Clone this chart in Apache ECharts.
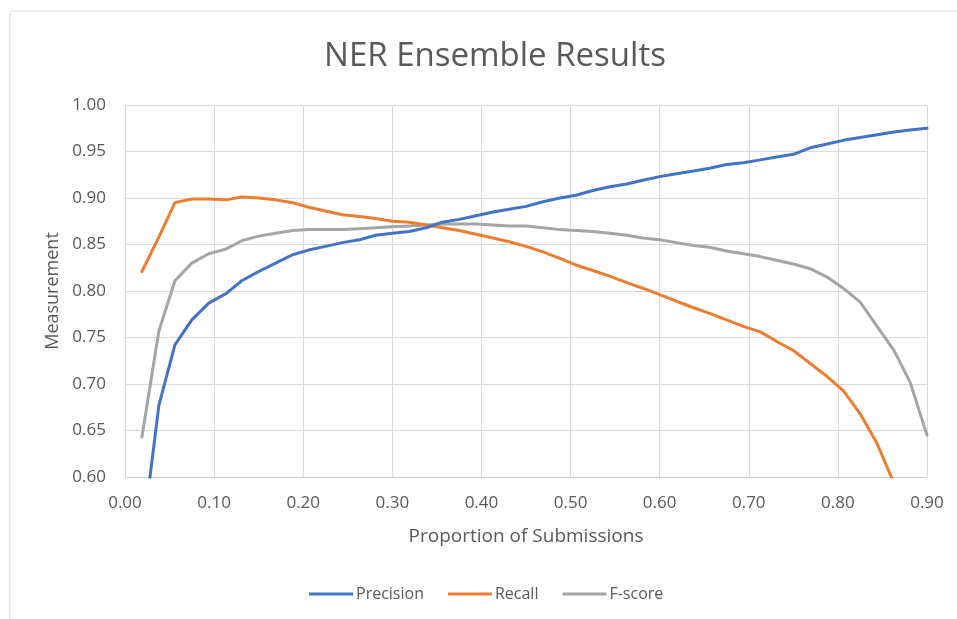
<!DOCTYPE html>
<html>
<head>
<meta charset="utf-8">
<title>NER Ensemble Results</title>
<script src="https://cdn.jsdelivr.net/npm/echarts@6/dist/echarts.min.js"></script>
<style>
  html, body { margin: 0; padding: 0; background: #ffffff; }
  #chart { width: 957px; height: 619px; }
</style>
</head>
<body>
<div id="chart"></div>
<script>
// Proportion of submissions included in the ensemble
const proportion = [
  0.019, 0.038, 0.056, 0.075, 0.094, 0.113, 0.131, 0.150, 0.169, 0.188,
  0.206, 0.225, 0.244, 0.263, 0.281, 0.300, 0.319, 0.338, 0.356, 0.375,
  0.394, 0.413, 0.431, 0.450, 0.469, 0.488, 0.506, 0.525, 0.544, 0.563,
  0.581, 0.600, 0.619, 0.638, 0.656, 0.675, 0.694, 0.713, 0.731, 0.750,
  0.769, 0.788, 0.806, 0.825, 0.844, 0.863, 0.881, 0.900
];

const precision = [
  0.530, 0.677, 0.742, 0.769, 0.787, 0.797, 0.811, 0.821, 0.830, 0.839,
  0.844, 0.848, 0.852, 0.855, 0.860, 0.862, 0.864, 0.868, 0.874, 0.877,
  0.881, 0.885, 0.888, 0.891, 0.896, 0.900, 0.903, 0.908, 0.912, 0.915,
  0.919, 0.923, 0.926, 0.929, 0.932, 0.936, 0.938, 0.941, 0.944, 0.947,
  0.954, 0.958, 0.962, 0.965, 0.968, 0.971, 0.973, 0.975
];

const recall = [
  0.821, 0.858, 0.895, 0.899, 0.899, 0.898, 0.901, 0.900, 0.898, 0.895,
  0.890, 0.886, 0.882, 0.880, 0.878, 0.875, 0.874, 0.871, 0.868, 0.865,
  0.861, 0.857, 0.853, 0.848, 0.842, 0.835, 0.828, 0.822, 0.816, 0.809,
  0.803, 0.796, 0.789, 0.782, 0.776, 0.769, 0.762, 0.756, 0.746, 0.736,
  0.722, 0.708, 0.693, 0.668, 0.636, 0.593, 0.549, 0.482
];

const fscore = [
  0.643, 0.757, 0.811, 0.830, 0.840, 0.845, 0.854, 0.859, 0.862, 0.865,
  0.866, 0.866, 0.866, 0.867, 0.868, 0.869, 0.870, 0.871, 0.872, 0.872,
  0.872, 0.871, 0.870, 0.870, 0.868, 0.866, 0.865, 0.864, 0.862, 0.860,
  0.857, 0.855, 0.852, 0.849, 0.847, 0.843, 0.840, 0.837, 0.833, 0.829,
  0.824, 0.815, 0.803, 0.788, 0.762, 0.736, 0.702, 0.645
];

const seriesNames = ['Precision', 'Recall', 'F-score'];
const seriesColors = ['#4472C4', '#ED7D31', '#A5A5A5'];
const seriesValues = [precision, recall, fscore];

const FONT = '"Open Sans", sans-serif';
const TEXT = '#595959';
const GRID = '#d9d9d9';

const chart = echarts.init(document.getElementById('chart'), null, { renderer: 'canvas' });

chart.setOption({
  animation: false,
  backgroundColor: '#ffffff',
  textStyle: { fontFamily: FONT },
  graphic: [{
    type: 'rect',
    shape: { x: 10, y: 11, width: 1000, height: 700 },
    style: { fill: 'none', stroke: GRID, lineWidth: 1 },
    silent: true
  }],
  title: {
    text: 'NER Ensemble Results',
    left: 490,
    textAlign: 'center',
    top: 35,
    textStyle: { fontFamily: FONT, fontSize: 33, fontWeight: 'normal', color: TEXT }
  },
  legend: {
    left: 304,
    top: 581,
    itemWidth: 44,
    itemHeight: 3,
    itemGap: 24,
    icon: 'rect',
    textStyle: { fontFamily: FONT, fontSize: 16, color: TEXT, padding: [0, 0, 0, -2] },
    data: seriesNames
  },
  grid: { left: 125, right: 30, top: 105, bottom: 142, containLabel: false },
  xAxis: {
    type: 'value',
    min: 0,
    max: 0.9,
    interval: 0.1,
    name: 'Proportion of Submissions',
    nameLocation: 'middle',
    nameGap: 50,
    nameTextStyle: { fontFamily: FONT, fontSize: 19, color: TEXT },
    axisLine: { show: true, lineStyle: { color: '#cccccc', width: 1 } },
    axisTick: { show: false },
    axisLabel: {
      fontFamily: FONT, fontSize: 17, color: TEXT, margin: 18,
      formatter: v => v.toFixed(2)
    },
    splitLine: { show: true, lineStyle: { color: GRID, width: 1 } }
  },
  yAxis: {
    type: 'value',
    min: 0.6,
    max: 1.0,
    interval: 0.05,
    name: 'Measurement',
    nameLocation: 'middle',
    nameGap: 62,
    nameTextStyle: { fontFamily: FONT, fontSize: 18, color: TEXT },
    axisLine: { show: false },
    axisTick: { show: false },
    axisLabel: {
      fontFamily: FONT, fontSize: 17, color: TEXT, margin: 19,
      formatter: v => v.toFixed(2)
    },
    splitLine: { show: true, lineStyle: { color: GRID, width: 1 } }
  },
  series: seriesNames.map((name, i) => ({
    name: name,
    type: 'line',
    data: proportion.map((x, j) => [x, seriesValues[i][j]]),
    showSymbol: false,
    symbol: 'none',
    smooth: false,
    clip: true,
    color: seriesColors[i],
    lineStyle: { color: seriesColors[i], width: 3, join: 'round', cap: 'round' },
    itemStyle: { color: seriesColors[i] },
    z: 3 - i
  }))
});
</script>
</body>
</html>
